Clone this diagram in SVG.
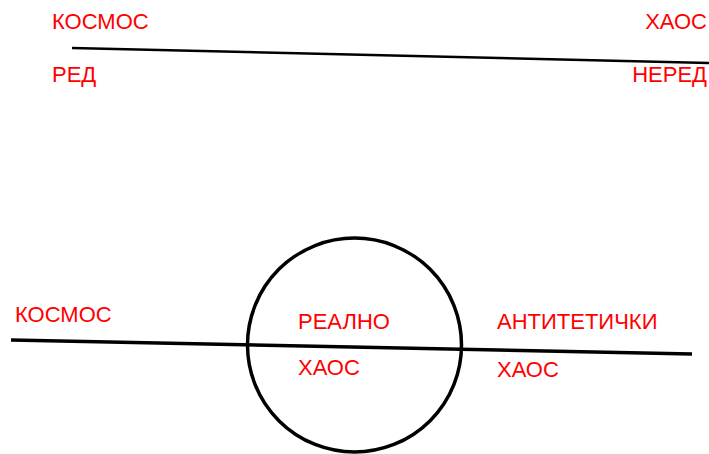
<svg xmlns="http://www.w3.org/2000/svg" width="709" height="454" viewBox="0 0 709 454">
<style>
.t{font-family:"Liberation Sans",Arial,sans-serif;font-size:22px;fill:#ff0000}
.ln{stroke:#000;fill:none;stroke-linecap:butt}
</style>
<rect width="709" height="454" fill="#fff"/>
<g id="connectors">
<line class="ln" x1="72" y1="48" x2="709" y2="63" stroke-width="2.5"/>
<line class="ln" x1="11" y1="340" x2="692" y2="354" stroke-width="3.5"/>
</g>
<g id="circle">
<circle class="ln" cx="354.5" cy="345" r="107" stroke-width="3.5"/>
</g>
<g id="top-labels">
<text class="t" x="52" y="29">КОСМОС</text>
<text class="t" x="707" y="29" text-anchor="end">ХАОС</text>
<text class="t" x="52" y="82">РЕД</text>
<text class="t" x="707" y="82" text-anchor="end">НЕРЕД</text>
</g>
<g id="bottom-labels">
<text class="t" x="15" y="322">КОСМОС</text>
<text class="t" x="298" y="329">РЕАЛНО</text>
<text class="t" x="298" y="375">ХАОС</text>
<text class="t" x="497" y="329">АНТИТЕТИЧКИ</text>
<text class="t" x="497" y="377">ХАОС</text>
</g>
</svg>
